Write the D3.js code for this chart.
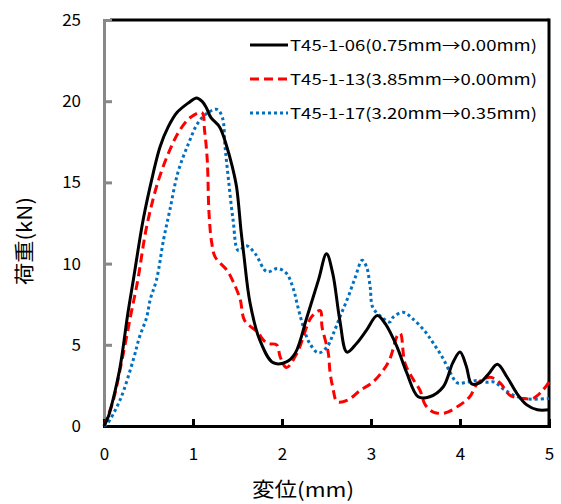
<!DOCTYPE html>
<html>
<head>
<meta charset="utf-8">
<script src="https://cdn.jsdelivr.net/npm/d3@7"></script>
<style>
  body { margin: 0; background: #fff; }
  text { font-family: "Noto Sans CJK JP", "DejaVu Sans", sans-serif; }
</style>
</head>
<body>
<svg id="chart" width="561" height="504"></svg>
<script>
// series: T45-1-06
var disp06 = [0, 0.05, 0.10, 0.18, 0.27, 0.33, 0.44, 0.55, 0.63, 0.72, 0.82, 0.95, 1.04, 1.10, 1.15, 1.20, 1.30, 1.38, 1.44, 1.49, 1.54, 1.57, 1.64, 1.75, 1.90, 2.05, 2.15, 2.28, 2.41, 2.50, 2.57, 2.65, 2.73, 2.84, 2.95, 3.07, 3.16, 3.29, 3.40, 3.53, 3.66, 3.81, 3.92, 4.00, 4.07, 4.13, 4.22, 4.32, 4.42, 4.53, 4.64, 4.75, 4.87, 5.00];
var load06 = [0, 0.6, 1.6, 3.6, 7.0, 9.0, 12.7, 15.5, 17.2, 18.4, 19.3, 19.9, 20.2, 20.0, 19.6, 19.0, 18.4, 17.2, 16.0, 14.7, 12.0, 10.6, 7.6, 5.3, 3.9, 3.95, 4.5, 6.7, 9.0, 10.6, 9.4, 6.5, 4.55, 5.1, 5.9, 6.8, 6.3, 4.9, 3.3, 1.8, 1.8, 2.4, 3.9, 4.55, 3.7, 2.6, 2.65, 3.2, 3.8, 3.0, 2.0, 1.3, 1.0, 1.0];

// series: T45-1-13
var disp13 = [0, 0.10, 0.20, 0.30, 0.38, 0.48, 0.61, 0.74, 0.85, 0.97, 1.10, 1.13, 1.16, 1.18, 1.21, 1.25, 1.38, 1.45, 1.53, 1.58, 1.72, 1.83, 1.94, 1.98, 2.05, 2.17, 2.33, 2.43, 2.45, 2.52, 2.54, 2.57, 2.62, 2.74, 2.88, 3.01, 3.12, 3.21, 3.30, 3.33, 3.38, 3.46, 3.55, 3.61, 3.70, 3.83, 4.00, 4.11, 4.20, 4.34, 4.45, 4.56, 4.70, 4.82, 4.93, 5.00];
var load13 = [0, 1.5, 4.0, 6.8, 9.0, 12.3, 15.1, 17.0, 18.2, 19.0, 19.3, 18.2, 16.4, 13.1, 11.3, 10.4, 9.6, 8.9, 7.8, 6.5, 5.8, 5.1, 5.0, 4.25, 3.6, 4.5, 6.7, 7.1, 6.1, 4.5, 3.3, 2.4, 1.5, 1.6, 2.2, 2.65, 3.3, 4.1, 5.6, 5.7, 3.9, 3.0, 2.2, 1.3, 0.86, 0.8, 1.3, 1.8, 2.65, 3.0, 2.65, 1.9, 1.7, 1.7, 2.2, 2.7];

// series: T45-1-17
var disp17 = [0, 0.03, 0.18, 0.33, 0.40, 0.48, 0.52, 0.59, 0.67, 0.74, 0.83, 0.95, 1.06, 1.17, 1.27, 1.33, 1.36, 1.40, 1.45, 1.51, 1.60, 1.70, 1.83, 1.95, 2.05, 2.13, 2.18, 2.24, 2.31, 2.41, 2.51, 2.57, 2.65, 2.74, 2.82, 2.90, 2.95, 2.99, 3.02, 3.12, 3.21, 3.25, 3.36, 3.47, 3.61, 3.70, 3.80, 3.89, 3.97, 4.08, 4.19, 4.30, 4.39, 4.48, 4.60, 4.71, 4.82, 5.00];
var load17 = [0, 0.1, 1.6, 4.1, 5.5, 6.7, 7.8, 9.0, 11.5, 13.3, 15.6, 17.4, 18.7, 19.3, 19.5, 19.0, 17.2, 15.1, 12.7, 10.8, 11.1, 10.6, 9.5, 9.7, 9.4, 8.4, 7.3, 6.1, 5.1, 4.5, 4.9, 5.6, 6.7, 7.9, 9.1, 10.2, 9.8, 8.6, 7.3, 6.7, 6.4, 6.7, 7.0, 6.6, 5.8, 5.1, 4.25, 3.3, 2.65, 2.7, 2.8, 2.7, 2.7, 2.3, 1.9, 1.7, 1.65, 1.7];

var seriesNames = ['T45-1-06(0.75mm\u21920.00mm)', 'T45-1-13(3.85mm\u21920.00mm)', 'T45-1-17(3.20mm\u21920.35mm)'];
var xTicks = [0, 1, 2, 3, 4, 5];
var yTicks = [0, 5, 10, 15, 20, 25];

var svg = d3.select('#chart');
var margin = {left: 104, right: 12, top: 20, bottom: 78};
var width = 561 - margin.left - margin.right;
var height = 504 - margin.top - margin.bottom;

var x = d3.scaleLinear().domain([0, 5]).range([0, width]);
var y = d3.scaleLinear().domain([0, 25]).range([height, 0]);

var g = svg.append('g').attr('transform', 'translate(' + margin.left + ',' + margin.top + ')');

// frame: top and right black
g.append('line').attr('x1', 6).attr('x2', width).attr('y1', 0).attr('y2', 0)
  .attr('stroke', '#000').attr('stroke-width', 3);
g.append('line').attr('x1', width).attr('x2', width).attr('y1', -1.5).attr('y2', height)
  .attr('stroke', '#000').attr('stroke-width', 3);

// y axis, gray, ticks inside
var yAxis = g.append('g').call(d3.axisLeft(y).tickValues(yTicks).tickSize(-8).tickPadding(20)
  .tickFormat(d3.format('d')));
yAxis.select('.domain').attr('stroke', '#888').attr('stroke-width', 3);
yAxis.selectAll('.tick line').attr('stroke', '#888').attr('stroke-width', 3);
yAxis.selectAll('.tick text').attr('font-size', 17).attr('fill', '#000')
  .attr('font-family', '"DejaVu Sans", sans-serif').attr('dx', -3);

// x axis, black, ticks inside
var xAxis = g.append('g').attr('transform', 'translate(0,' + height + ')')
  .call(d3.axisBottom(x).tickValues(xTicks).tickSize(-7).tickPadding(22)
    .tickFormat(d3.format('d')));
xAxis.select('.domain').attr('stroke', '#000').attr('stroke-width', 3);
xAxis.selectAll('.tick line').attr('stroke', '#000').attr('stroke-width', 3);
xAxis.selectAll('.tick text').attr('font-size', 17).attr('fill', '#000')
  .attr('font-family', '"DejaVu Sans", sans-serif');

// axis titles
svg.append('text').attr('x', 303).attr('y', 497).attr('text-anchor', 'middle')
  .attr('font-size', 20).attr('textLength', 102).attr('lengthAdjust', 'spacingAndGlyphs')
  .text('変位(mm)');
svg.append('text').attr('transform', 'translate(32,241) rotate(-90)').attr('text-anchor', 'middle')
  .attr('font-size', 20).attr('textLength', 88).attr('lengthAdjust', 'spacingAndGlyphs')
  .text('荷重(kN)');

var line = d3.line()
  .x(function (d) { return x(d[0]); })
  .y(function (d) { return y(d[1]); })
  .curve(d3.curveCatmullRom.alpha(0.5));

function zipSeries(xs, ys) {
  return xs.map(function (v, i) { return [v, ys[i]]; });
}

var styles = [
  {color: '#000000', dash: null, width: 3},
  {color: '#ff0000', dash: '9,5', width: 3},
  {color: '#0070c0', dash: '3,3', width: 3}
];
var allSeries = [zipSeries(disp06, load06), zipSeries(disp13, load13), zipSeries(disp17, load17)];

var plot = g.append('g');
allSeries.slice().reverse().forEach(function (s, k) {
  var st = styles[allSeries.length - 1 - k];
  plot.append('path').datum(s).attr('d', line)
    .attr('fill', 'none').attr('stroke', st.color).attr('stroke-width', st.width)
    .attr('stroke-dasharray', st.dash);
});

// legend
var legend = svg.append('g').attr('transform', 'translate(250,45)');
seriesNames.forEach(function (name, i) {
  var row = legend.append('g').attr('transform', 'translate(0,' + (i * 34) + ')');
  row.append('line').attr('x1', 0).attr('x2', 38).attr('y1', 0).attr('y2', 0)
    .attr('stroke', styles[i].color).attr('stroke-width', styles[i].width)
    .attr('stroke-dasharray', styles[i].dash);
  row.append('text').attr('x', 40).attr('y', 6).attr('font-size', 15)
    .attr('textLength', 247).attr('lengthAdjust', 'spacingAndGlyphs').text(name);
});
</script>
</body>
</html>
